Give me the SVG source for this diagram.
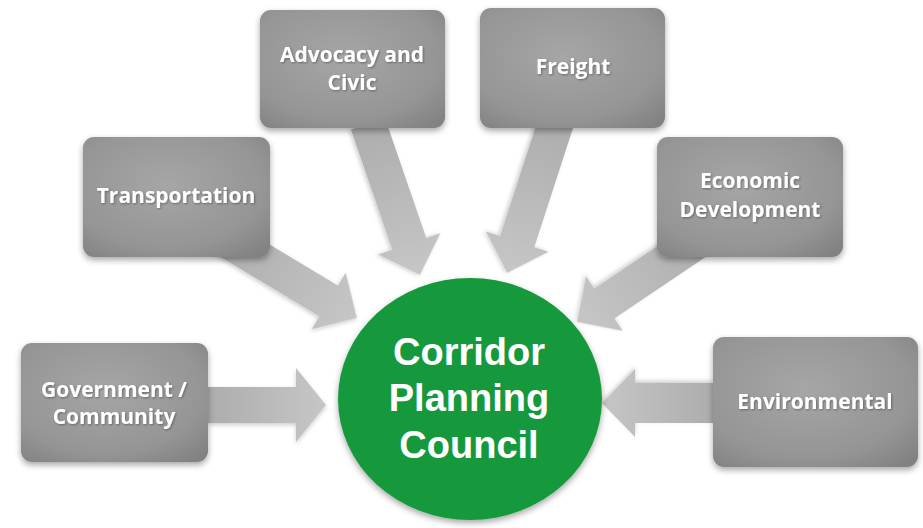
<svg xmlns="http://www.w3.org/2000/svg" width="923" height="528" viewBox="0 0 923 528">
<defs>
  <radialGradient id="boxGrad" cx="45%" cy="40%" r="75%">
    <stop offset="0" stop-color="#a6a6a6"/>
    <stop offset="0.7" stop-color="#959595"/>
    <stop offset="1" stop-color="#828282"/>
  </radialGradient>
  <linearGradient id="arrowGrad" x1="0" y1="0" x2="1" y2="0">
    <stop offset="0" stop-color="#adadad"/>
    <stop offset="1" stop-color="#c6c6c6"/>
  </linearGradient>
  <filter id="shadow" x="-20%" y="-20%" width="140%" height="150%">
    <feDropShadow dx="0" dy="3" stdDeviation="3" flood-color="#000" flood-opacity="0.35"/>
  </filter>
  <filter id="ashadow" x="-20%" y="-30%" width="140%" height="160%">
    <feDropShadow dx="0" dy="2" stdDeviation="2" flood-color="#000" flood-opacity="0.2"/>
  </filter>
  <filter id="tshadow" x="-10%" y="-30%" width="120%" height="160%">
    <feDropShadow dx="1" dy="1" stdDeviation="1" flood-color="#000" flood-opacity="0.35"/>
  </filter>
  <path id="arrowShape" d="M0,0 L-33,-33 L-33,-18 L-160,-18 L-160,18 L-33,18 L-33,33 Z"/>
</defs>
<style>
  .box { fill: url(#boxGrad); filter: url(#shadow); }
  .arrow { fill: url(#arrowGrad); filter: url(#ashadow); }
  .lbl { font-family: "Open Sans", "Liberation Sans", sans-serif; font-weight: bold; font-size: 21px; fill: #ffffff; text-anchor: middle; filter: url(#tshadow); }
  .center { font-family: "Liberation Sans", Arial, sans-serif; font-weight: bold; font-size: 38px; fill: #ffffff; text-anchor: middle; }
</style>
<rect width="923" height="528" fill="#ffffff"/>

<g id="connectors">
  <path class="arrow" d="M0,0 L-30,-37 L-30,-18 L-118,-18 L-118,18 L-30,18 L-30,37 Z" transform="translate(326,405)"/>
  <path class="arrow" d="M0,0 L-33,-34 L-33,-20 L-111,-20 L-111,20 L-33,20 L-33,34 Z" transform="translate(602,403) rotate(180)"/>
  <use class="arrow" href="#arrowShape" transform="translate(357,318) rotate(31)"/>
  <use class="arrow" href="#arrowShape" transform="translate(420,275) rotate(71)"/>
  <use class="arrow" href="#arrowShape" transform="translate(507,273) rotate(108)"/>
  <use class="arrow" href="#arrowShape" transform="translate(577,322) rotate(146)"/>
</g>

<g id="government">
  <rect class="box" x="21" y="343" width="187" height="119" rx="11"/>
  <text class="lbl" x="114" y="397">Government /</text>
  <text class="lbl" x="114" y="424">Community</text>
</g>
<g id="transportation">
  <rect class="box" x="83" y="137" width="187" height="120" rx="11"/>
  <text class="lbl" x="176" y="203">Transportation</text>
</g>
<g id="advocacy">
  <rect class="box" x="260" y="10" width="185" height="118" rx="11"/>
  <text class="lbl" x="352" y="62">Advocacy and</text>
  <text class="lbl" x="352" y="90">Civic</text>
</g>
<g id="freight">
  <rect class="box" x="480" y="8" width="185" height="120" rx="11"/>
  <text class="lbl" x="573" y="74">Freight</text>
</g>
<g id="economic">
  <rect class="box" x="657" y="137" width="186" height="120" rx="11"/>
  <text class="lbl" x="750" y="188">Economic</text>
  <text class="lbl" x="750" y="217">Development</text>
</g>
<g id="environmental">
  <rect class="box" x="713" y="337" width="205" height="130" rx="11"/>
  <text class="lbl" x="815" y="409">Environmental</text>
</g>
<g id="council">
  <ellipse cx="470" cy="399" rx="132" ry="121" fill="#15993d" filter="url(#shadow)"/>
  <text class="center" x="469" y="365">Corridor</text>
  <text class="center" x="469" y="411">Planning</text>
  <text class="center" x="469" y="458">Council</text>
</g>
</svg>
